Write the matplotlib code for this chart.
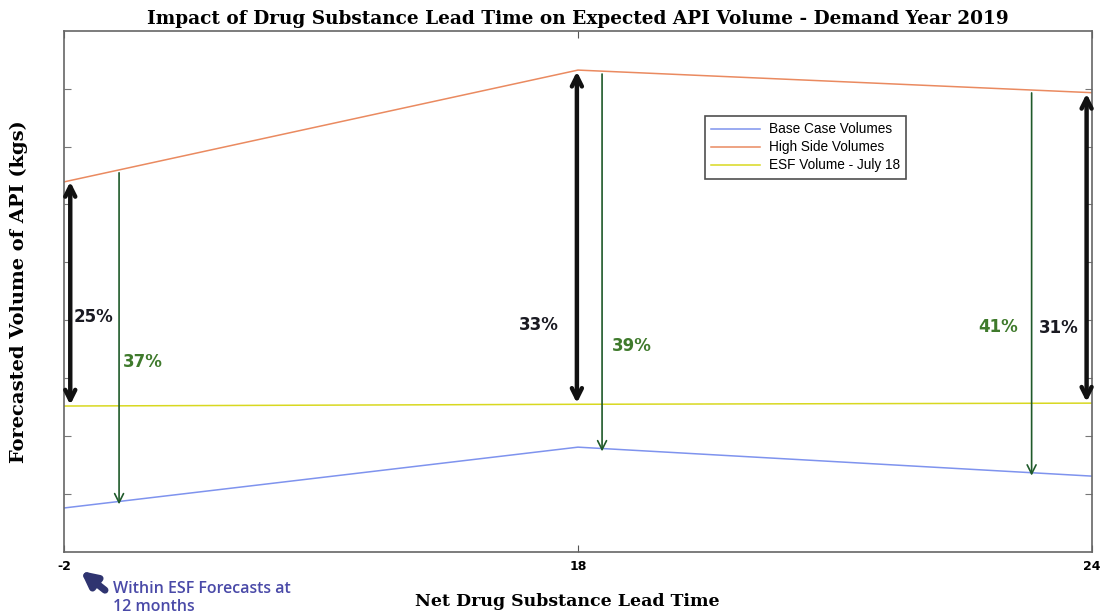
import numpy as np
import matplotlib
matplotlib.use("Agg")
import matplotlib.pyplot as plt

# Net drug substance lead time (months), shown as evenly spaced categories
lead_times = ["-2", "18", "24"]

# Forecasted API volume (relative units; the axis carries no numeric labels)
base_case = [0.76, 1.81, 1.31]
high_side = [6.39, 8.32, 7.93]
esf_july18 = [2.52, 2.55, 2.57]

# Gap labels: high side over ESF (black) and high side over base case (green)
gap_high_vs_esf = ["25%", "33%", "31%"]
gap_high_vs_base = ["37%", "39%", "41%"]

fig = plt.figure(figsize=(11.05, 6.14), dpi=100)
ax = fig.add_axes([0.058, 0.101, 0.930, 0.849])

pos = np.arange(len(lead_times))
ax.plot(pos, base_case, color="#7f93ee", lw=1.1, label="Base Case Volumes")
ax.plot(pos, high_side, color="#ea8a60", lw=1.1, label="High Side Volumes")
ax.plot(pos, esf_july18, color="#d8d820", lw=1.1, label="ESF Volume - July 18")

ax.set_xlim(0, 2)
ax.set_ylim(0, 9)
ax.set_xticks(pos)
ax.set_xticklabels(lead_times, fontsize=9, fontweight="bold", family="DejaVu Sans")
ax.set_yticks(np.arange(1, 9))
ax.tick_params(axis="y", which="both", direction="in", left=True, right=True,
               labelleft=False, length=5, color="#777777")
ax.tick_params(axis="x", which="both", direction="in", top=True, bottom=True,
               length=5, color="#555555", pad=6)
for sp in ax.spines.values():
    sp.set_color("#666666")
    sp.set_linewidth(1.2)

def interp(series, x):
    return float(np.interp(x, pos, series))

# Black double arrows: ESF -> high side
black_x = [0.012, 0.998, 1.990]
black_lbl = [(0.018, 4.06), (0.885, 3.92), (1.897, 3.87)]
for bx, (tx, ty), txt in zip(black_x, black_lbl, gap_high_vs_esf):
    ax.annotate("", xy=(bx, interp(esf_july18, bx) + 0.02),
                xytext=(bx, interp(high_side, bx) - 0.02),
                arrowprops=dict(arrowstyle="<->", lw=3.2, color="#111111",
                                mutation_scale=18, shrinkA=0, shrinkB=0))
    ax.text(tx, ty, txt, fontsize=12, fontweight="bold", color="#1a1a22",
            family="DejaVu Sans", va="center", ha="left")

# Green arrows: high side -> base case
green_x = [0.107, 1.047, 1.883]
green_lbl = [(0.115, 3.28), (1.066, 3.56), (1.779, 3.89)]
for gx, (tx, ty), txt in zip(green_x, green_lbl, gap_high_vs_base):
    ax.annotate("", xy=(gx, interp(base_case, gx) - 0.05),
                xytext=(gx, interp(high_side, gx) - 0.05),
                arrowprops=dict(arrowstyle="->", lw=1.2, color="#1f5a2a",
                                mutation_scale=16, shrinkA=0, shrinkB=0))
    ax.text(tx, ty, txt, fontsize=12, fontweight="bold", color="#3f7a2c",
            family="DejaVu Sans", va="center", ha="left")

leg = ax.legend(loc="upper left", bbox_to_anchor=(0.624, 0.836),
                frameon=True, fancybox=False, edgecolor="#222222",
                handlelength=3.6, borderpad=0.45, labelspacing=0.3,
                handletextpad=0.6, borderaxespad=0,
                prop={"family": "Liberation Sans", "size": 9.8})
leg.get_frame().set_linewidth(1.2)

ax.set_title("Impact of Drug Substance Lead Time on Expected API Volume - Demand Year 2019",
             fontsize=13.3, fontweight="bold", family="DejaVu Serif", pad=5)
ax.set_ylabel("Forecasted Volume of API (kgs)", fontsize=14, fontweight="bold",
              family="DejaVu Serif", labelpad=26)
fig.text(0.513, 0.020, "Net Drug Substance Lead Time", fontsize=12.5,
         fontweight="bold", family="DejaVu Serif", ha="center", va="center")

# Note pointing at the -2 month tick
fig.patches.append(matplotlib.patches.FancyArrowPatch(
    (0.097, 0.036), (0.071, 0.073), transform=fig.transFigure,
    arrowstyle="-|>", mutation_scale=22, lw=5, color="#2f3470"))
fig.text(0.102, 0.026, "Within ESF Forecasts at\n12 months", fontsize=11.5,
         color="#4a4aa8", family="Open Sans", fontweight="semibold",
         ha="left", va="center", linespacing=1.1)

fig.savefig("out.png", dpi=100)
